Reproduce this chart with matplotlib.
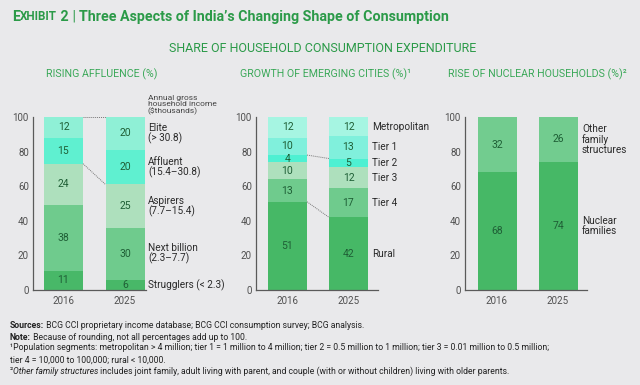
import numpy as np
import matplotlib
matplotlib.use('Agg')
import matplotlib.pyplot as plt

plt.rcParams['font.family'] = ['Roboto', 'DejaVu Sans']

# ---------------------------------------------------------------
# Data
years = ['2016', '2025']

affluence_2016 = [11, 38, 24, 15, 12]
affluence_2025 = [6, 30, 25, 20, 20]
affluence_labels = ['Strugglers (< 2.3)', 'Next billion\n(2.3–7.7)', 'Aspirers\n(7.7–15.4)',
                    'Affluent\n(15.4–30.8)', 'Elite\n(> 30.8)']

cities_2016 = [51, 13, 10, 4, 10, 12]
cities_2025 = [42, 17, 12, 5, 13, 12]
cities_labels = ['Rural', 'Tier 4', 'Tier 3', 'Tier 2', 'Tier 1', 'Metropolitan']

household_2016 = [68, 32]
household_2025 = [74, 26]
household_labels = ['Nuclear\nfamilies', 'Other\nfamily\nstructures']

# ---------------------------------------------------------------
# Styles
bg = '#e9e9eb'
green_title = '#2b9a48'
green_sub = '#3aa858'
val_color = '#1f5f36'
txt_color = '#2a2a2a'
axis_color = '#5a5a5a'

col_affluence = ['#48b868', '#6fcb8d', '#aee0bd', '#5ff0d0', '#8ff0d6']
col_cities = ['#46b866', '#6fcb8d', '#aee0bd', '#4ef0d2', '#80f0dc', '#a6f5e2']
col_household = ['#46b866', '#72cc8f']

W, H = 640, 385
fig = plt.figure(figsize=(6.4, 3.85), dpi=100, facecolor=bg)
renderer = fig.canvas.get_renderer()


def fx(px):
    return px / W


def fy(py):
    return 1 - py / H


def run_text(x, y, pieces, **common):
    # writes pieces of text one after another on the same line
    for s, kw in pieces:
        t = fig.text(fx(x), fy(y), s, **{**common, **kw})
        x += t.get_window_extent(renderer).width
    return x


def panel(left, right, c0, c1, v2016, v2025, colors, labels, label_px, links):
    ax = fig.add_axes([fx(left), fy(290), (right - left) / W, 173 / H])
    ax.set_facecolor('none')
    spacing = c1 - c0
    ax.set_xlim((left - c0) / spacing, (right - c0) / spacing)
    ax.set_ylim(0, 100)
    width = 39 / spacing
    tops = []
    for xi, vals in enumerate([v2016, v2025]):
        cum = np.cumsum(vals)
        bottoms = np.concatenate([[0], cum[:-1]])
        tops.append(np.minimum(cum, 100))
        ax.bar(xi, vals, width, bottom=bottoms, color=colors, linewidth=0)
        for b, v in zip(bottoms, vals):
            top = min(b + v, 100)
            ax.text(xi, (b + top) / 2, str(v), ha='center', va='center',
                    fontsize=7.5, color=val_color)
        if xi == 1:
            lx = (label_px - c0) / spacing
            for b, v, lab in zip(bottoms, vals, labels):
                top = min(b + v, 100)
                ax.text(lx, (b + top) / 2, lab, ha='left', va='center', fontsize=7.2,
                        color=txt_color, linespacing=0.95, clip_on=False)
    for k in links:
        ax.plot([width / 2, 1 - width / 2], [tops[0][k], tops[1][k]], color='#777777',
                lw=0.7, ls=(0, (1, 1)))
    for s in ['top', 'right']:
        ax.spines[s].set_visible(False)
    for s in ['left', 'bottom']:
        ax.spines[s].set_color(axis_color)
        ax.spines[s].set_linewidth(0.9)
    ax.set_yticks(np.arange(0, 101, 20))
    ax.set_xticks([0, 1])
    ax.set_xticklabels(years)
    ax.tick_params(axis='y', length=0, pad=3, labelsize=7, labelcolor='#505050')
    ax.tick_params(axis='x', length=0, pad=4, labelsize=7, labelcolor='#505050')
    return ax


ax1 = panel(33, 146, 63.5, 125, affluence_2016, affluence_2025, col_affluence,
            affluence_labels, 148, [2, 4])
ax2 = panel(256, 378, 287.5, 348.5, cities_2016, cities_2025, col_cities,
            cities_labels, 372, [0, 3])
ax3 = panel(465, 587, 497, 558, household_2016, household_2025, col_household,
            household_labels, 582, [])

fig.text(fx(148), fy(105), 'Annual gross\nhousehold income\n($thousands)', ha='left',
         va='center', fontsize=6, color='#444444', linespacing=1.05)

# ---------------------------------------------------------------
# Titles
run_text(12, 17, [('E', dict(fontsize=10.3)), ('XHIBIT', dict(fontsize=8.4)),
                  (' 2', dict(fontsize=10.3)),
                  (' | ', dict(fontsize=10.3, fontweight='normal')),
                  ("Three Aspects of India’s Changing Shape of Consumption", dict(fontsize=10.3))],
         fontweight='bold', color=green_title, va='center', ha='left')

fig.text(fx(323), fy(48), 'SHARE OF HOUSEHOLD CONSUMPTION EXPENDITURE', ha='center',
         va='center', fontsize=9, color=green_title)

for cx, t in [(101.5, 'RISING AFFLUENCE (%)'), (325.5, 'GROWTH OF EMERGING CITIES (%)¹'),
              (537, 'RISE OF NUCLEAR HOUSEHOLDS (%)²')]:
    fig.text(fx(cx), fy(74), t, ha='center', va='center', fontsize=7.7, color=green_sub)

# ---------------------------------------------------------------
# Footnotes
fn = dict(fontsize=6.2, color='#222222', va='center', ha='left')
run_text(10, 325, [('Sources:', dict(fontweight='bold')),
                   (' BCG CCI proprietary income database; BCG CCI consumption survey; BCG analysis.', {})], **fn)
run_text(10, 337, [('Note:', dict(fontweight='bold')),
                   (' Because of rounding, not all percentages add up to 100.', {})], **fn)
run_text(10, 348, [('¹Population segments: metropolitan > 4 million; tier 1 = 1 million to 4 million; '
                    'tier 2 = 0.5 million to 1 million; tier 3 = 0.01 million to 0.5 million;', {})], **fn)
run_text(10, 360, [('tier 4 = 10,000 to 100,000; rural < 10,000.', {})], **fn)
run_text(10, 371, [('²', {}), ('Other family structures', dict(fontstyle='italic')),
                   (' includes joint family, adult living with parent, and couple (with or without '
                    'children) living with older parents.', {})], **fn)

fig.savefig('out.png', dpi=100, facecolor=bg)
